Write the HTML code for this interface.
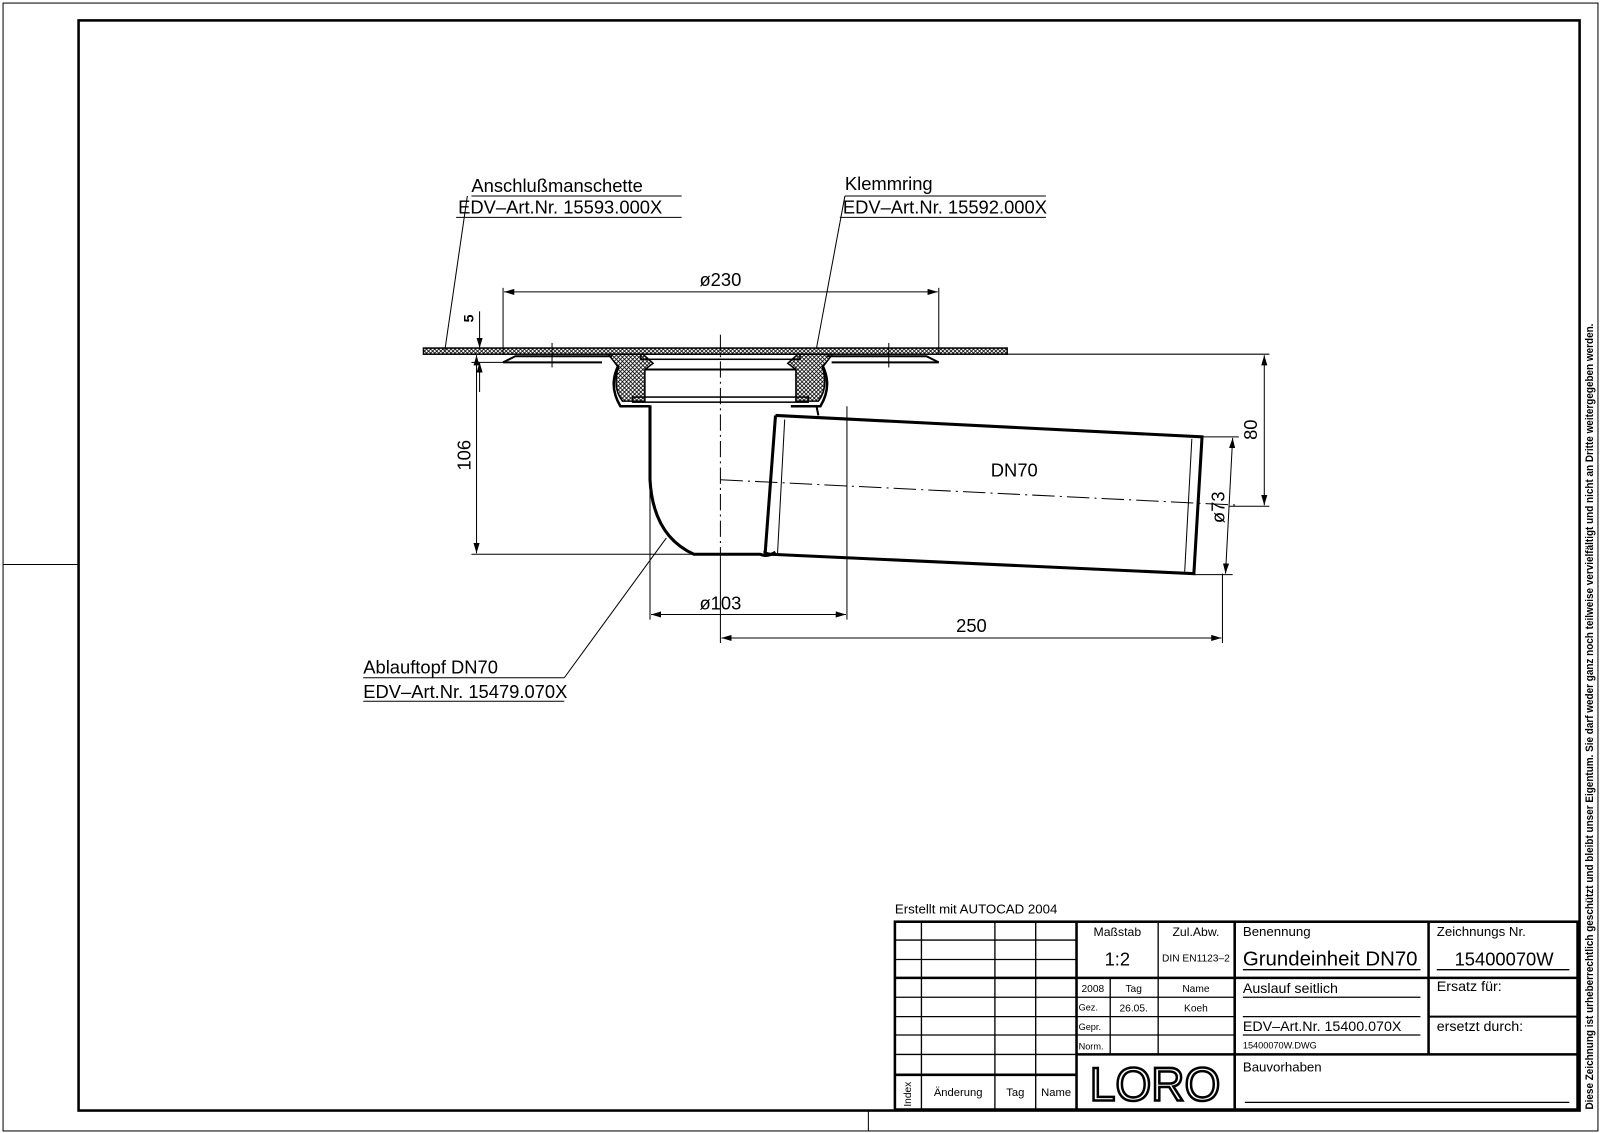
<!DOCTYPE html>
<html><head><meta charset="utf-8"><style>
html,body{margin:0;padding:0;background:#fff}
svg{display:block}
text{font-family:"Liberation Sans Narrow","Liberation Sans",sans-serif;fill:#000}
</style></head><body>
<svg width="1600" height="1133" viewBox="0 0 1568 1110" preserveAspectRatio="none" xmlns="http://www.w3.org/2000/svg">
<defs>
<marker id="a" viewBox="0 0 10 6" refX="10" refY="3" markerWidth="10" markerHeight="6" orient="auto-start-reverse" markerUnits="userSpaceOnUse"><path d="M0,0L10,3L0,6z" fill="#000"/></marker>
<pattern id="h" width="4" height="4" patternUnits="userSpaceOnUse"><path d="M0,0L4,4M4,0L0,4" stroke="#000" stroke-width="0.8"/></pattern>
</defs>
<rect x="0" y="0" width="1568" height="1110" fill="#fff"/>
<rect x="3" y="3" width="1563" height="1105" fill="none" stroke="#000" stroke-width="1"/>
<rect x="77" y="20" width="1471" height="1068" fill="none" stroke="#000" stroke-width="2.5"/>
<line x1="3" y1="553" x2="77" y2="553" stroke="#000"/>
<line x1="851" y1="1088" x2="851" y2="1108" stroke="#000"/>
<text x="0" y="0" font-size="10.5" font-weight="bold" transform="translate(1561,1087) rotate(-90)" textLength="770" lengthAdjust="spacingAndGlyphs">Diese Zeichnung ist urheberrechtlich geschützt und bleibt unser Eigentum. Sie darf weder ganz noch teilweise vervielfältigt und nicht an Dritte weitergegeben werden.</text>

<g stroke="#000" fill="none">
<rect x="415" y="341" width="572" height="6" fill="url(#h)" stroke-width="1.5"/>
<path d="M493,355 L505,349 L600,349 M920,355 L908,349 L810,349" stroke-width="2"/>
<path d="M493,355 L590,355 M920,355 L815,355" stroke-width="2"/>
<line x1="541" y1="336" x2="541" y2="360" stroke-width="1"/>
<line x1="871" y1="336" x2="871" y2="360" stroke-width="1"/>
<!-- collar -->
<path d="M596,347 L630,347 L640,356 L632,362 L632,393 L610,393 Q600,380 606,360 Q600,352 596,347 z" fill="url(#h)" stroke-width="1.5"/>
<path d="M816,347 L782,347 L772,356 L780,362 L780,393 L802,393 Q812,380 806,360 Q812,352 816,347 z" fill="url(#h)" stroke-width="1.5"/>
<path d="M606,358 Q596,378 608,398 L637,398 M806,358 Q816,378 804,398 L775,398" stroke-width="2.5"/>
<rect x="628" y="347" width="156" height="5" stroke-width="1.5"/>
<line x1="632" y1="362" x2="780" y2="362" stroke-width="2"/>
<rect x="620" y="389" width="172" height="5" stroke-width="1.5"/>
<!-- pot -->
<path d="M637,397 L637,470 Q640,525 680,543 L745,543 Q752,546 760,541" stroke-width="3"/>
<line x1="800" y1="397" x2="802" y2="407" stroke-width="2"/>
<path d="M760,407 L1178,428 L1170,562 L755,543 Q748,542 750,540 L760,407" stroke-width="3"/>
<line x1="769" y1="411" x2="762" y2="542" stroke-width="1"/>
<line x1="1168" y1="430" x2="1161" y2="560" stroke-width="1"/>
<line x1="830" y1="398" x2="830" y2="545" stroke-width="1"/>
<path d="M706,328 L706,545" stroke-width="1" stroke-dasharray="16,4,2,4"/>
<path d="M706,470 L1215,495" stroke-width="1" stroke-dasharray="22,5,2,5"/>
<g stroke-width="1">
<line x1="493" y1="282" x2="493" y2="347"/><line x1="920" y1="282" x2="920" y2="347"/>
<line x1="494" y1="286" x2="919" y2="286" marker-start="url(#a)" marker-end="url(#a)"/>
<line x1="467" y1="348" x2="467" y2="542" marker-start="url(#a)" marker-end="url(#a)"/>
<line x1="462" y1="543" x2="680" y2="543"/>
<line x1="470" y1="305" x2="470" y2="341" marker-end="url(#a)"/>
<line x1="470" y1="384" x2="470" y2="355" marker-end="url(#a)"/>
<line x1="462" y1="355" x2="493" y2="355"/>
<line x1="637" y1="470" x2="637" y2="607"/><line x1="830" y1="545" x2="830" y2="607"/>
<line x1="638" y1="602" x2="829" y2="602" marker-start="url(#a)" marker-end="url(#a)"/>
<line x1="706" y1="545" x2="706" y2="630"/><line x1="1198" y1="562" x2="1198" y2="630"/>
<line x1="707" y1="625" x2="1197" y2="625" marker-start="url(#a)" marker-end="url(#a)"/>
<line x1="987" y1="347" x2="1244" y2="347"/><line x1="1205" y1="496" x2="1244" y2="496"/>
<line x1="1239" y1="348" x2="1239" y2="495" marker-start="url(#a)" marker-end="url(#a)"/>
<line x1="1178" y1="428" x2="1214" y2="428"/><line x1="1170" y1="563" x2="1208" y2="563"/>
<line x1="1208" y1="429" x2="1201" y2="562" marker-start="url(#a)" marker-end="url(#a)"/>
<line x1="462" y1="192" x2="668" y2="192"/><line x1="447" y1="213" x2="668" y2="213"/>
<line x1="458" y1="192" x2="436" y2="343"/>
<line x1="828" y1="192" x2="1025" y2="192"/><line x1="823" y1="213" x2="1025" y2="213"/>
<line x1="828" y1="192" x2="800" y2="342"/>
<line x1="356" y1="664" x2="553" y2="664"/><line x1="356" y1="687" x2="553" y2="687"/>
<line x1="553" y1="664" x2="653" y2="527"/>
</g>
</g>
<g font-size="18">
<text x="462" y="188">Anschlußmanschette</text>
<text x="449" y="209">EDV–Art.Nr. 15593.000X</text>
<text x="828" y="186">Klemmring</text>
<text x="826" y="209">EDV–Art.Nr. 15592.000X</text>
<text x="356" y="660">Ablauftopf DN70</text>
<text x="356" y="684">EDV–Art.Nr. 15479.070X</text>
<text x="706" y="280" text-anchor="middle">ø230</text>
<text x="706" y="597" text-anchor="middle">ø103</text>
<text x="952" y="619" text-anchor="middle">250</text>
<text x="994" y="467" text-anchor="middle">DN70</text>
<text transform="translate(461,446) rotate(-90)" text-anchor="middle">106</text>
<text transform="translate(1232,421) rotate(-90)" text-anchor="middle">80</text>
<text transform="translate(1200,497) rotate(-90)" text-anchor="middle">ø73</text>
<text transform="translate(464,312) rotate(-90)" text-anchor="middle" font-size="14" font-weight="bold">5</text>
</g>

<text x="877" y="895" font-size="13">Erstellt mit AUTOCAD 2004</text>
<g stroke="#000" fill="none" stroke-width="1.3">
<rect x="877" y="903" width="669" height="184" stroke-width="2.5"/>
<path d="M877,921H1055M877,940H1055M877,977H1055M877,996H1055M877,1014H1055M877,1033H1055"/>
<path d="M877,958H1546M1055,1033H1546M877,1053H1055" stroke-width="2.5"/>
<path d="M903,903V1087M975,903V1087M1015,903V1087"/>
<path d="M1055,903V1087M1210,903V1087M1400,903V1033" stroke-width="2.5"/>
<path d="M1135,903V958M1088,958V1033M1135,958V1033"/>
<path d="M1055,977H1210M1055,996H1210M1055,1014H1210"/>
<path d="M1400,996H1546" stroke-width="2"/>
<path d="M1218,950H1392M1408,950H1538M1218,977H1392M1218,996H1392M1218,1014H1392M1220,1080H1538"/>
</g>
<g font-size="12">
<text x="1095" y="917" text-anchor="middle">Maßstab</text>
<text x="1172" y="917" text-anchor="middle">Zul.Abw.</text>
<text x="1095" y="946" text-anchor="middle" font-size="18">1:2</text>
<text x="1172" y="942" text-anchor="middle" font-size="10">DIN EN1123–2</text>
<text x="1218" y="917" font-size="13">Benennung</text>
<text x="1218" y="946" font-size="20">Grundeinheit DN70</text>
<text x="1408" y="917" font-size="13">Zeichnungs Nr.</text>
<text x="1474" y="946" text-anchor="middle" font-size="18">15400070W</text>
<text x="1071" y="972" text-anchor="middle" font-size="10">2008</text>
<text x="1111" y="972" text-anchor="middle" font-size="10">Tag</text>
<text x="1172" y="972" text-anchor="middle" font-size="10">Name</text>
<text x="1057" y="990" font-size="9">Gez.</text>
<text x="1111" y="991" text-anchor="middle" font-size="10">26.05.</text>
<text x="1172" y="991" text-anchor="middle" font-size="10">Koeh</text>
<text x="1057" y="1009" font-size="9">Gepr.</text>
<text x="1057" y="1028" font-size="9">Norm.</text>
<text x="1218" y="973" font-size="14">Auslauf seitlich</text>
<text x="1408" y="971" font-size="14">Ersatz für:</text>
<text x="1218" y="1010" font-size="14">EDV–Art.Nr. 15400.070X</text>
<text x="1408" y="1010" font-size="14">ersetzt durch:</text>
<text x="1218" y="1027" font-size="9">15400070W.DWG</text>
<text x="1218" y="1050" font-size="13">Bauvorhaben</text>
<text transform="translate(893,1072) rotate(-90)" text-anchor="middle" font-size="10">Index</text>
<text x="939" y="1074" text-anchor="middle" font-size="11">Änderung</text>
<text x="995" y="1074" text-anchor="middle" font-size="11">Tag</text>
<text x="1035" y="1074" text-anchor="middle" font-size="11">Name</text>
</g>
<text x="1132" y="1078" text-anchor="middle" font-size="46" textLength="128" lengthAdjust="spacingAndGlyphs" style="fill:#fff;stroke:#000;stroke-width:2.5;font-family:'Liberation Sans',sans-serif">LORO</text>
</svg>
</body></html>
